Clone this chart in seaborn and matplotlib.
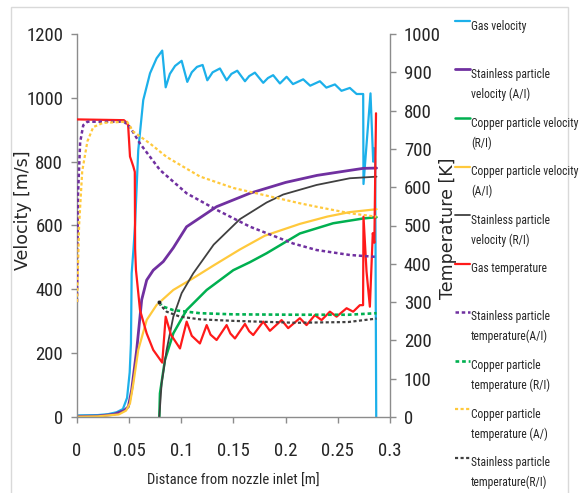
import os
import numpy as np
import matplotlib
matplotlib.use("Agg")
import matplotlib.pyplot as plt
import seaborn as sns
from matplotlib import font_manager
from matplotlib.lines import Line2D
from matplotlib.legend_handler import HandlerLine2D
from matplotlib.patches import Rectangle
from matplotlib.ticker import FuncFormatter

# ---------------- data ----------------
# Gas velocity [m/s]
gas_vel_x = [0, 0.02, 0.03, 0.038, 0.044, 0.048, 0.0505, 0.0517, 0.0524, 0.054, 0.0556, 0.0587,
             0.0635, 0.07, 0.0763, 0.0817, 0.085, 0.089, 0.094, 0.1003, 0.1057, 0.110, 0.115, 0.1204,
             0.1249, 0.130, 0.137, 0.1434, 0.148, 0.1536, 0.161, 0.165, 0.1705, 0.1785, 0.183, 0.188,
             0.1945, 0.2009, 0.207, 0.2168, 0.2235, 0.2328, 0.239, 0.2472, 0.2535, 0.2615, 0.268,
             0.2743, 0.2746, 0.2813, 0.2839, 0.2850, 0.2858, 0.2868]
gas_vel_y = [5, 6, 9, 15, 25, 60, 140, 230, 450, 520, 600, 836,
             993, 1077, 1124, 1148, 1033, 1075, 1100, 1116, 1050, 1080, 1097, 1103,
             1055, 1080, 1092, 1055, 1075, 1085, 1052, 1068, 1079, 1047, 1062, 1071,
             1045, 1066, 1043, 1058, 1038, 1052, 1032, 1042, 1022, 1031, 1012,
             1012, 730, 1014, 800, 842, 800, 0]

# Stainless particle velocity (A/I) [m/s]
ss_vel_ai_x = [0, 0.02, 0.035, 0.045, 0.0492, 0.0524, 0.0572, 0.062, 0.0668, 0.0731, 0.0827,
               0.0923, 0.105, 0.1338, 0.1657, 0.2, 0.23, 0.26, 0.2743, 0.2871]
ss_vel_ai_y = [2, 3, 8, 20, 32, 85, 210, 367, 429, 460, 487,
               530, 596, 659, 701, 735, 757, 772, 779, 780]

# Copper particle velocity (R/I) [m/s]
cu_vel_ri_x = [0.0789, 0.0795, 0.0843, 0.0923, 0.105, 0.1243, 0.1498, 0.1657, 0.1817, 0.2136,
               0.2455, 0.2743, 0.2871]
cu_vel_ri_y = [0, 74, 179, 262, 335, 398, 460, 485, 513, 575, 607, 622, 626]

# Copper particle velocity (A/I) [m/s]
cu_vel_ai_x = [0, 0.02, 0.04, 0.047, 0.0508, 0.054, 0.0587, 0.0668, 0.0763, 0.0923, 0.1114,
               0.131, 0.1562, 0.18, 0.2136, 0.24, 0.2615, 0.2871]
cu_vel_ai_y = [1, 2, 8, 20, 43, 105, 210, 304, 351, 398, 435,
               475, 525, 568, 605, 628, 642, 651]

# Stainless particle velocity (R/I) [m/s]
ss_vel_ri_x = [0.0789, 0.0811, 0.0859, 0.0923, 0.1003, 0.1114, 0.131, 0.1562, 0.1817, 0.1976,
               0.2296, 0.2615, 0.2871]
ss_vel_ri_y = [0, 105, 210, 314, 388, 450, 540, 620, 672, 697, 727, 748, 753]

# Gas temperature [K]
gas_t_x = [0, 0.045, 0.047, 0.049, 0.0508, 0.054, 0.0554, 0.0557, 0.0565, 0.0604, 0.0668,
           0.0731, 0.0817, 0.0850, 0.090, 0.0987, 0.1051, 0.110, 0.1178, 0.1243, 0.128, 0.1338,
           0.1434, 0.147, 0.1514, 0.161, 0.165, 0.1689, 0.1785, 0.1849, 0.1961, 0.2024, 0.2136,
           0.220, 0.228, 0.2344, 0.2424, 0.2488, 0.2584, 0.2647, 0.2711, 0.2742, 0.2746, 0.2775,
           0.2807, 0.2835, 0.2850, 0.2866]
gas_t_y = [777, 775, 770, 762, 680, 654, 640, 440, 384, 279, 218,
           175, 142, 262, 215, 179, 249, 212, 192, 240, 215, 201,
           240, 218, 205, 243, 224, 214, 249, 225, 253, 232, 258,
           240, 266, 253, 275, 262, 284, 275, 292, 292, 523, 380,
           288, 480, 455, 793]

# Stainless particle temperature (A/I) [K]
ss_t_ai_x = [0, 0.001, 0.003, 0.006, 0.01, 0.045, 0.0508, 0.0604, 0.0795, 0.1051, 0.1338,
             0.1657, 0.2072, 0.2296, 0.2615, 0.2871]
ss_t_ai_y = [300, 583, 717, 762, 771, 771, 757, 714, 645, 584, 541,
             497, 453, 436, 423, 418]

# Copper particle temperature (R/I) [K]
cu_t_ri_x = [0.0786, 0.0827, 0.0923, 0.1178, 0.15, 0.21, 0.26, 0.2871]
cu_t_ri_y = [299, 288, 279, 271, 268, 267, 267, 271]

# Copper particle temperature (A/I) [K]
cu_t_ai_x = [0, 0.002, 0.005, 0.01, 0.0156, 0.025, 0.048, 0.054, 0.07, 0.0859, 0.1178,
             0.1498, 0.1817, 0.2136, 0.2296, 0.2615, 0.2871]
cu_t_ai_y = [300, 500, 642, 720, 757, 768, 771, 745, 714, 679, 628,
             598, 578, 558, 549, 532, 523]

# Stainless particle temperature (R/I) [K]
ss_t_ri_x = [0.0786, 0.080, 0.0859, 0.0987, 0.1178, 0.15, 0.21, 0.26, 0.2871]
ss_t_ri_y = [299, 292, 275, 262, 255, 251, 246, 248, 257]

x_ticks = [0, 0.05, 0.1, 0.15, 0.2, 0.25, 0.3]

labels = ["Gas velocity", "Stainless particle\nvelocity (A/I)", "Copper particle velocity\n(R/I)",
          "Copper particle velocity\n(A/I)", "Stainless particle\nvelocity (R/I)", "Gas temperature",
          "Stainless particle\ntemperature(A/I)", "Copper particle\ntemperature (R/I)",
          "Copper particle\ntemperature (A/)", "Stainless particle\ntemperature(R/I)"]

# ---------------- fonts ----------------
sns.set_style("white")
ttf = font_manager.fontManager.ttflist
files = {os.path.basename(f.fname).lower(): f.fname for f in ttf}


def first_file(names):
    for n in names:
        if n.lower() in files:
            return files[n.lower()]
    return None


c_file = first_file(["NotoSans-Condensed.ttf", "OpenSans-Condensed.ttf",
                     "OpenSans_Condensed-Regular.ttf", "LiberationSansNarrow-Regular.ttf",
                     "Roboto-Condensed.ttf", "RobotoCondensed-Regular.ttf",
                     "DejaVuSansCondensed.ttf"])
if c_file is None:
    for f in ttf:
        cond = (str(f.stretch) in ("condensed", "semi-condensed", "extra-condensed")
                or "Narrow" in f.name or "Condensed" in f.name)
        if cond and f.style == "normal" and f.weight in (400, "normal", "regular"):
            c_file = f.fname
            break

if c_file:
    TXT_FILE, TICK_FS, LEG_FS, XLAB_FS = c_file, 13.5, 8.4, 10.5
else:
    TXT_FILE, TICK_FS, LEG_FS, XLAB_FS = None, 11, 6.8, 10
LEG_FILE = TXT_FILE


def fp(size, fname):
    if fname:
        return font_manager.FontProperties(fname=fname, size=size)
    return font_manager.FontProperties(family="Liberation Sans", size=size)


plt.rcParams["font.family"] = ["DejaVu Sans"]

BLUE = "#1CB0EA"
PURPLE = "#7030A0"
GREEN = "#00B050"
YELLOW = "#FFC93C"
GRAY = "#404040"
RED = "#FF1A1A"
SPINE = "#8c8c8c"
TXT = "#262626"
DOT = (0, (1.4, 1.1))

fig = plt.figure(figsize=(5.79, 4.93), dpi=100)
ax = fig.add_axes([77 / 579, 1 - 417 / 493, 313 / 579, 383 / 493])
ax2 = ax.twinx()

sns.lineplot(x=gas_vel_x, y=gas_vel_y, ax=ax, color=BLUE, lw=1.6, sort=False, estimator=None,
             label=labels[0], legend=False)
sns.lineplot(x=ss_vel_ai_x, y=ss_vel_ai_y, ax=ax, color=PURPLE, lw=2.0, sort=False, estimator=None,
             label=labels[1], legend=False)
sns.lineplot(x=cu_vel_ri_x, y=cu_vel_ri_y, ax=ax, color=GREEN, lw=1.8, sort=False, estimator=None,
             label=labels[2], legend=False)
sns.lineplot(x=cu_vel_ai_x, y=cu_vel_ai_y, ax=ax, color=YELLOW, lw=1.6, sort=False, estimator=None,
             label=labels[3], legend=False)
sns.lineplot(x=ss_vel_ri_x, y=ss_vel_ri_y, ax=ax, color=GRAY, lw=1.3, sort=False, estimator=None,
             label=labels[4], legend=False)

sns.lineplot(x=gas_t_x, y=gas_t_y, ax=ax2, color=RED, lw=1.6, sort=False, estimator=None,
             label=labels[5], legend=False)
sns.lineplot(x=ss_t_ai_x, y=ss_t_ai_y, ax=ax2, color=PURPLE, lw=1.8, ls=DOT, sort=False,
             estimator=None, label=labels[6], legend=False)
sns.lineplot(x=cu_t_ri_x, y=cu_t_ri_y, ax=ax2, color=GREEN, lw=1.9, ls=DOT, sort=False,
             estimator=None, label=labels[7], legend=False)
sns.lineplot(x=cu_t_ai_x, y=cu_t_ai_y, ax=ax2, color=YELLOW, lw=1.6, ls=DOT, sort=False,
             estimator=None, label=labels[8], legend=False)
sns.lineplot(x=ss_t_ri_x, y=ss_t_ri_y, ax=ax2, color=GRAY, lw=1.6, ls=DOT, sort=False,
             estimator=None, label=labels[9], legend=False)
sns.scatterplot(x=ss_t_ri_x[:1], y=ss_t_ri_y[:1], ax=ax2, color="#202020", s=10, legend=False,
                zorder=5)

# axes
ax.set_xlim(0, 0.3)
ax.set_ylim(0, 1200)
ax2.set_ylim(0, 1000)
ax.set_xticks(x_ticks)
ax.set_yticks(np.arange(0, 1201, 200))
ax2.set_yticks(np.arange(0, 1001, 100))
ax.xaxis.set_major_formatter(FuncFormatter(lambda v, p: f"{v:g}"))

for a in (ax, ax2):
    for s in a.spines.values():
        s.set_visible(False)
ax.spines["left"].set_visible(True)
ax.spines["bottom"].set_visible(True)
ax2.spines["right"].set_visible(True)
for s in (ax.spines["left"], ax.spines["bottom"], ax2.spines["right"]):
    s.set_color(SPINE)
    s.set_linewidth(1.0)

ax.tick_params(axis="y", direction="out", length=4, width=1, color=SPINE,
               labelcolor=TXT, pad=6, left=True)
ax.tick_params(axis="x", direction="out", length=4, width=1, color=SPINE,
               labelcolor=TXT, pad=14, bottom=True)
ax2.tick_params(axis="y", direction="out", length=4, width=1, color=SPINE,
                labelcolor=TXT, pad=6, right=True)
for lbl in ax.get_xticklabels() + ax.get_yticklabels() + ax2.get_yticklabels():
    lbl.set_fontproperties(fp(TICK_FS, TXT_FILE))

ax.set_xlabel("Distance from nozzle inlet [m]", fontproperties=fp(XLAB_FS, TXT_FILE), color=TXT)
ax.xaxis.set_label_coords(0.5, -0.148)
ax.set_ylabel("Velocity [m/s]", fontsize=12.5, color=TXT, family="DejaVu Sans")
ax.yaxis.set_label_coords(-0.145, 0.54)
ax2.set_ylabel("Temperature [K]", fontsize=12.5, color=TXT, family="DejaVu Sans")
ax2.yaxis.set_label_coords(1.158, 0.4935)
ax.grid(False)
ax2.grid(False)


class FirstLineHandler(HandlerLine2D):
    def __init__(self, shift, **kw):
        super().__init__(**kw)
        self.shift = shift

    def create_artists(self, legend, orig_handle, xdescent, ydescent, width, height, fontsize, trans):
        arts = super().create_artists(legend, orig_handle, xdescent, ydescent, width, height,
                                      fontsize, trans)
        for a in arts:
            a.set_ydata(np.asarray(a.get_ydata(), dtype=float) + self.shift)
        return arts


h1, l1 = ax.get_legend_handles_labels()
h2, l2 = ax2.get_legend_handles_labels()
handles = h1 + h2
leg_labels = [l if "\n" in l else l + "\n " for l in l1 + l2]
leg = fig.legend(handles, leg_labels, loc="upper left", bbox_to_anchor=(455 / 579, 1 - 20 / 493),
                 frameon=False, prop=fp(LEG_FS, LEG_FILE), handlelength=1.3,
                 handletextpad=0.08, labelspacing=1.34,
                 borderpad=0, borderaxespad=0,
                 handler_map={Line2D: FirstLineHandler(11.45)})
for t in leg.get_texts():
    t.set_linespacing(1.63)
    t.set_color(TXT)

fig.patches.append(Rectangle((11 / 579, -0.01), 557 / 579, 1.01 - 7 / 493, transform=fig.transFigure,
                             fill=False, edgecolor="#d9d9d9", lw=1.0))

fig.savefig("out.png", dpi=100)
